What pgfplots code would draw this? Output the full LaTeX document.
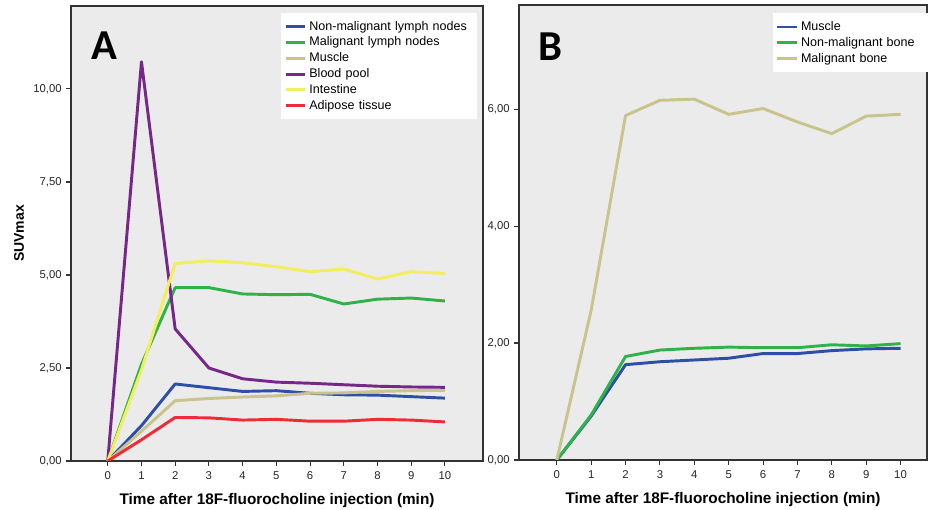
\documentclass[border=0pt]{standalone}
\usepackage{pgfplots}
\pgfplotsset{compat=1.18}
\usepackage{fontspec}
\setmainfont{Liberation Sans}
\newfontfamily\calfont{Carlito}
\definecolor{cblue}{HTML}{2E4FA6}
\definecolor{cgreen}{HTML}{2EB34B}
\definecolor{ckhaki}{HTML}{C9C38C}
\definecolor{cpurple}{HTML}{77268A}
\definecolor{cyellow}{HTML}{F2EE5E}
\definecolor{cred}{HTML}{EE2B36}
\definecolor{cbg}{HTML}{EBEBEB}
\pgfplotsset{
  common/.style={
    scale only axis,
    axis background/.style={fill=cbg},
    axis line style={black!80, line width=0.8pt},
    tick align=outside, tick pos=left,
    major tick length=3.5pt,
    tick style={black!80, line width=0.8pt},
    xtick={0,1,2,3,4,5,6,7,8,9,10},
    ticklabel style={font=\fontsize{8.5}{10}\selectfont, text=black!85},
    xticklabel style={yshift=-1pt},
    /pgf/number format/assume math mode=true,
    yticklabel style={/pgf/number format/.cd, fixed, fixed zerofill, precision=2, use comma},
    xlabel={Time after 18F-fluorocholine injection (min)},
    xlabel style={font=\bfseries\fontsize{11.5}{13}\selectfont, yshift=-3.5pt},
    every axis plot/.append style={line width=2.2pt, line join=round},
    legend cell align=left,
    legend style={draw=none, fill=white, font=\fontsize{9.4}{11}\selectfont,
      inner xsep=2pt, inner ysep=4pt, row sep=-0.45pt},
    legend image code/.code={\draw[#1, line width=2.2pt] (0cm,0cm) -- (0.52cm,0cm);},
  }
}
\begin{document}
\begin{tikzpicture}
\useasboundingbox (0,0) rectangle (696pt,382.5pt);
\begin{axis}[common,
  at={(53.25pt,36.75pt)}, anchor=south west,
  width=309pt, height=341.25pt,
  xmin=-1.09, xmax=11.13, ymin=0, ymax=12.23,
  ytick={0,2.5,5,7.5,10},
  ylabel={SUVmax},
  ylabel style={font=\bfseries\fontsize{10.5}{12}\selectfont},
  legend style={at={(rel axis cs:0.51,0.985)}, anchor=north west, text width=122pt},
]
\addplot[cblue] coordinates {(0,0) (1,0.95) (2,2.07) (3,1.97) (4,1.87) (5,1.89) (6,1.82) (7,1.78) (8,1.77) (9,1.73) (10,1.69)};
\addlegendentry{Non-malignant lymph nodes}
\addplot[cgreen] coordinates {(0,0) (1,2.6) (2,4.66) (3,4.66) (4,4.49) (5,4.47) (6,4.48) (7,4.22) (8,4.35) (9,4.38) (10,4.30)};
\addlegendentry{Malignant lymph nodes}
\addplot[ckhaki] coordinates {(0,0) (1,0.8) (2,1.62) (3,1.68) (4,1.72) (5,1.75) (6,1.82) (7,1.83) (8,1.87) (9,1.89) (10,1.90)};
\addlegendentry{Muscle}
\addplot[cpurple] coordinates {(0,0) (1,10.73) (2,3.55) (3,2.50) (4,2.21) (5,2.12) (6,2.09) (7,2.05) (8,2.01) (9,1.99) (10,1.98)};
\addlegendentry{Blood pool}
\addplot[cyellow] coordinates {(0,0) (1,2.45) (2,5.31) (3,5.38) (4,5.33) (5,5.22) (6,5.09) (7,5.16) (8,4.89) (9,5.09) (10,5.04)};
\addlegendentry{Intestine}
\addplot[cred] coordinates {(0,0) (1,0.57) (2,1.17) (3,1.16) (4,1.10) (5,1.12) (6,1.07) (7,1.07) (8,1.12) (9,1.10) (10,1.05)};
\addlegendentry{Adipose tissue}
\node[font=\calfont\bfseries\fontsize{32}{36}\selectfont] at (rel axis cs:0.08,0.912) {A};
\end{axis}
\begin{axis}[common,
  at={(389.25pt,37.5pt)}, anchor=south west,
  width=306pt, height=341.25pt,
  xmin=-1.10, xmax=10.77, ymin=0, ymax=7.78,
  ytick={0,2,4,6},
  legend style={at={(rel axis cs:0.622,0.982)}, anchor=north west, text width=94pt},
]
\addplot[cblue] coordinates {(0,0) (1,0.75) (2,1.63) (3,1.68) (4,1.71) (5,1.74) (6,1.82) (7,1.82) (8,1.87) (9,1.90) (10,1.91)};
\addlegendentry{Muscle}
\addplot[cgreen] coordinates {(0,0) (1,0.77) (2,1.77) (3,1.88) (4,1.91) (5,1.93) (6,1.92) (7,1.92) (8,1.97) (9,1.95) (10,1.99)};
\addlegendentry{Non-malignant bone}
\addplot[ckhaki] coordinates {(0,0) (1,2.56) (2,5.89) (3,6.15) (4,6.17) (5,5.91) (6,6.01) (7,5.78) (8,5.58) (9,5.88) (10,5.91)};
\addlegendentry{Malignant bone}
\node[font=\calfont\bfseries\fontsize{32}{36}\selectfont] at (rel axis cs:0.076,0.908) {B};
\end{axis}
\end{tikzpicture}
\end{document}
